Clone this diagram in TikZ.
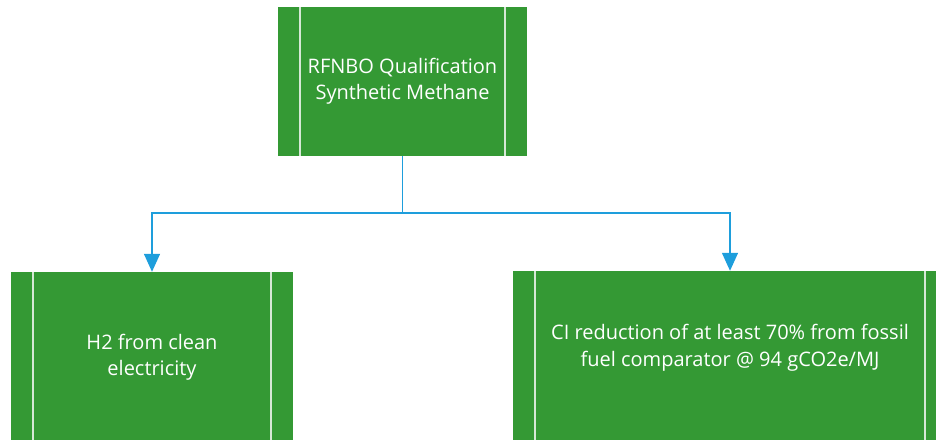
\documentclass[tikz,border=0pt]{standalone}
\usepackage{fontspec}
\setmainfont{Open Sans}
\usetikzlibrary{positioning,arrows.meta}
\definecolor{boxgreen}{RGB}{52,153,52}
\definecolor{stripe}{RGB}{214,232,214}
\definecolor{linkblue}{RGB}{30,158,220}

\tikzset{
  reqbox/.style={fill=boxgreen,draw=none,inner sep=0pt,text=white,
                 font=\fontsize{20}{26}\selectfont,align=center},
  stripe/.style={draw=stripe,line width=1.5pt},
  link/.style={draw=linkblue,line width=1.4pt,
               -{Triangle[width=16pt,length=18pt]}}
}

\begin{document}
\begin{tikzpicture}[x=1pt,y=-1pt]
        \useasboundingbox (0,0) rectangle (936,439);
        \clip (0,0) rectangle (936,439);
        % boxes
        \node[reqbox,minimum width=249pt,minimum height=149pt]
          (rfnbo) at (402.5,81.5) {RFNBO Qualification\\Synthetic Methane};
        \node[reqbox,minimum width=282pt,minimum height=170pt]
          (h2) at (152,357) {H2 from clean\\electricity};
        \node[reqbox,minimum width=434pt,minimum height=170pt]
          (ci) at (730,356) {};
        \node[text=white,font=\fontsize{20}{27}\selectfont,align=center]
          (ciTxt) at (730,348)
          {CI reduction of at least 70\% from fossil\\fuel comparator @ 94 gCO2e/MJ};
        % side stripes
        \foreach \b in {rfnbo,h2,ci}{
          \draw[stripe] ([xshift=22pt]\b.north west) -- ([xshift=22pt]\b.south west);
          \draw[stripe] ([xshift=-22pt]\b.north east) -- ([xshift=-22pt]\b.south east);
        }
        % connectors
        \coordinate (split) at (402.5,213);
        \draw[draw=linkblue,line width=1.4pt] (rfnbo.south) -- (split);
        \draw[link] (split) -| (h2.north);
        \draw[link] (split) -| (ci.north);
      \end{tikzpicture}
\end{document}
